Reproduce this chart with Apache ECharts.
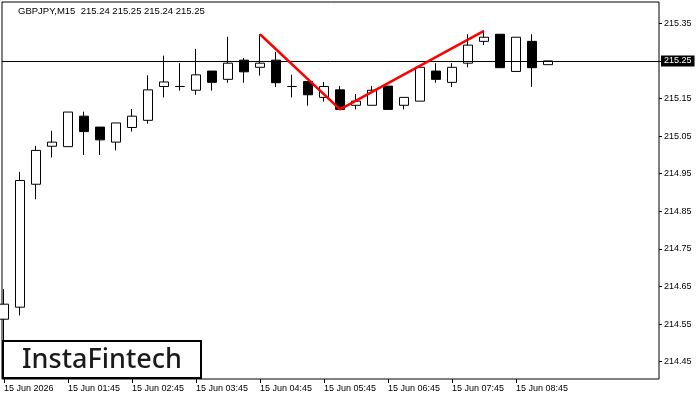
<!DOCTYPE html>
<html>
<head>
<meta charset="utf-8">
<script src="https://cdn.jsdelivr.net/npm/echarts@6/dist/echarts.min.js"></script>
<style>
html, body { margin: 0; padding: 0; background: #fff; }
#chart { width: 700px; height: 400px; }
</style>
</head>
<body>
<div id="chart"></div>
<script>
// GBPJPY M15 bars, 15 Jun 2026 00:45 -> 09:15
const opens  = [214.563, 214.595, 214.922, 215.023, 215.022, 215.103, 215.074, 215.034, 215.073, 215.092,
                215.182, 215.182, 215.172, 215.223, 215.201, 215.252, 215.233, 215.252, 215.182, 215.195,
                215.153, 215.173, 215.132, 215.132, 215.183, 215.132, 215.143, 215.223, 215.193, 215.244,
                215.302, 215.321, 215.222, 215.302, 215.240];
const closes = [214.603, 214.932, 215.012, 215.034, 215.114, 215.062, 215.040, 215.085, 215.103, 215.173,
                215.194, 215.182, 215.213, 215.193, 215.244, 215.221, 215.244, 215.192, 215.182, 215.160,
                215.182, 215.121, 215.143, 215.172, 215.121, 215.153, 215.233, 215.201, 215.233, 215.292,
                215.313, 215.232, 215.313, 215.232, 215.250];
const lows   = [214.502, 214.573, 214.882, 214.993, 215.022, 215.000, 215.000, 215.012, 215.062, 215.083,
                215.153, 215.171, 215.160, 215.171, 215.192, 215.192, 215.211, 215.181, 215.153, 215.131,
                215.142, 215.121, 215.121, 215.132, 215.121, 215.121, 215.143, 215.192, 215.181, 215.233,
                215.292, 215.232, 215.222, 215.181, 215.240];
const highs  = [214.643, 214.955, 215.024, 215.064, 215.114, 215.115, 215.074, 215.085, 215.122, 215.212,
                215.264, 215.244, 215.282, 215.223, 215.314, 215.258, 215.321, 215.274, 215.213, 215.195,
                215.194, 215.183, 215.162, 215.183, 215.183, 215.153, 215.233, 215.244, 215.244, 215.321,
                215.330, 215.321, 215.313, 215.321, 215.250];

// double top pattern: peak, trough, peak (bar index, price)
const patternPts = [[16, 215.321], [21, 215.121], [30, 215.330]];

const lastPrice = 215.25;
const priceTicks = [214.45, 214.55, 214.65, 214.75, 214.85, 214.95, 215.05, 215.15, 215.25, 215.35];
const timeTickBars = [0, 4, 8, 12, 16, 20, 24, 28, 32];
const timeTickLabels = ['15 Jun 2026', '15 Jun 01:45', '15 Jun 02:45', '15 Jun 03:45', '15 Jun 04:45',
                        '15 Jun 05:45', '15 Jun 06:45', '15 Jun 07:45', '15 Jun 08:45'];

const candles = opens.map(function (o, i) {
  return [i, o, closes[i], lows[i], highs[i]];
});

const chart = echarts.init(document.getElementById('chart'));
const font = 'Liberation Sans';

chart.setOption({
  animation: false,
  backgroundColor: '#fff',
  title: {
    text: 'GBPJPY,M15  215.24 215.25 215.24 215.25',
    left: 18, top: 6, padding: 0,
    textStyle: { fontFamily: font, fontSize: 9.5, fontWeight: 'normal', color: '#000' }
  },
  grid: {
    left: 2, top: 2, width: 657, height: 377,
    show: true, borderColor: '#000', borderWidth: 1,
    outerBoundsMode: 'none'
  },
  xAxis: {
    type: 'value',
    min: -0.125,
    max: 40.9375,
    axisLine: { show: false, onZero: false },
    splitLine: { show: false },
    axisTick: {
      show: true, length: 4, inside: false,
      customValues: timeTickBars,
      lineStyle: { color: '#000', width: 1 }
    },
    axisLabel: {
      customValues: timeTickBars,
      align: 'left',
      margin: 5,
      fontFamily: font, fontSize: 9, color: '#000',
      formatter: function (v) {
        const k = timeTickBars.indexOf(Math.round(v));
        return k >= 0 ? timeTickLabels[k] : '';
      }
    }
  },
  yAxis: {
    type: 'value',
    position: 'right',
    min: 214.404,
    max: 215.4067,
    scale: true,
    axisLine: { show: false, onZero: false },
    splitLine: { show: false },
    axisTick: {
      show: true, length: 3, inside: false,
      customValues: priceTicks,
      lineStyle: { color: '#000', width: 1 }
    },
    axisLabel: {
      customValues: priceTicks,
      margin: 2,
      formatter: function (v) {
        const s = v.toFixed(2);
        return Math.abs(v - lastPrice) < 1e-6 ? '{cur|' + s + '}' : '{n|' + s + '}';
      },
      rich: {
        n: { fontFamily: font, fontSize: 9, color: '#000', padding: [1, 3, 1, 3] },
        cur: { fontFamily: font, fontSize: 9, color: '#fff', backgroundColor: '#000', padding: [1, 3, 1, 3] }
      }
    }
  },
  series: [
    {
      type: 'candlestick',
      data: candles,
      encode: { x: 0, y: [1, 2, 3, 4] },
      barWidth: 10,
      clip: true,
      itemStyle: {
        color: '#fff', color0: '#000',
        borderColor: '#000', borderColor0: '#000',
        borderWidth: 1
      },
      markLine: {
        silent: true,
        symbol: ['none', 'none'],
        label: { show: false },
        lineStyle: { color: '#000', width: 1, type: 'solid' },
        data: [{ yAxis: lastPrice }]
      }
    },
    {
      type: 'line',
      data: patternPts,
      symbol: 'none',
      lineStyle: { color: '#ff0000', width: 2.5 },
      z: 5
    }
  ],
  graphic: [
    {
      type: 'rect',
      shape: { x: 3, y: 341, width: 198, height: 37 },
      style: { fill: '#fff', stroke: '#000', lineWidth: 2 },
      z: 100
    },
    {
      type: 'text',
      x: 102, y: 360,
      style: {
        text: 'InstaFintech',
        fontFamily: 'Noto Sans', fontSize: 27, fontWeight: 500,
        fill: '#1a1a1a', align: 'center', verticalAlign: 'middle'
      },
      z: 101
    }
  ]
});
</script>
</body>
</html>
